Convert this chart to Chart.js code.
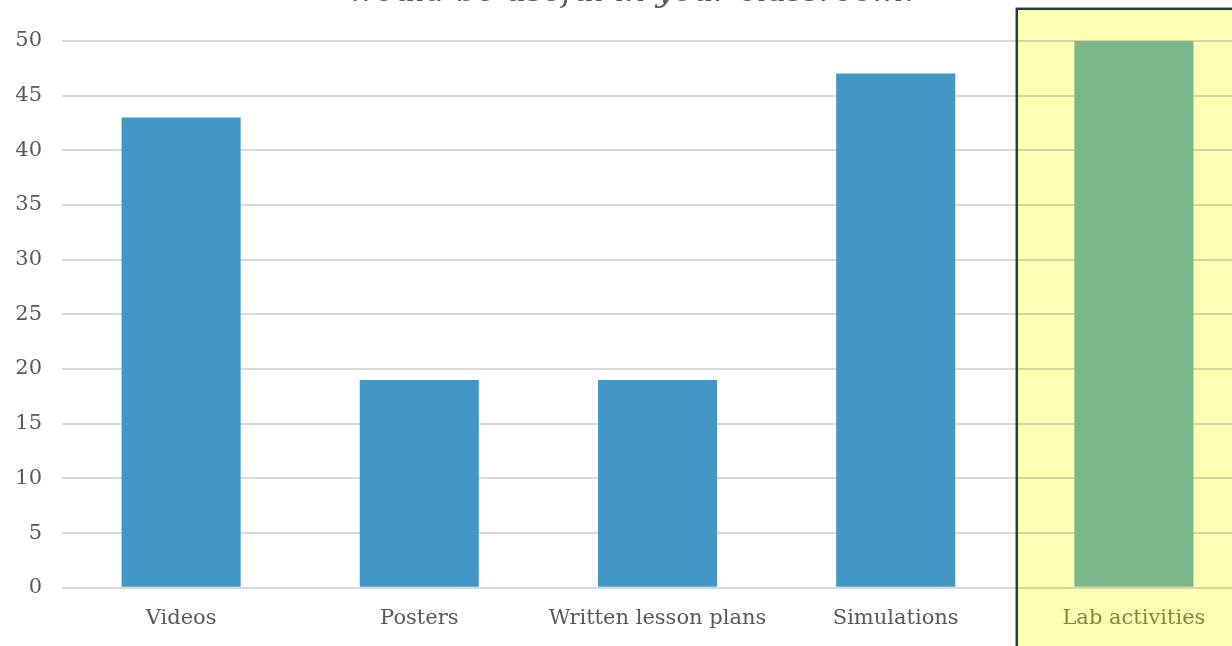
<!DOCTYPE html>
<html>
<head>
<meta charset="utf-8">
<script src="https://cdn.jsdelivr.net/npm/chart.js@4.4.1/dist/chart.umd.min.js"></script>
<style>
  html, body { margin: 0; padding: 0; background: #ffffff; overflow: hidden; width: 1232px; height: 646px; }
  #wrap { position: absolute; left: 0; top: -70px; width: 1253px; height: 719px; }
</style>
</head>
<body>
<div id="wrap"><canvas id="chart"></canvas></div>
<script>
// Survey results: resources teachers would use in class
const titleLines = ['Which type of resource', 'would be useful in your classroom?'];
const categories = ['Videos', 'Posters', 'Written lesson plans', 'Simulations', 'Lab activities'];
const responses = [43, 19, 19, 47, 50];
const highlighted = [false, false, false, false, true];
const yTicks = [0, 5, 10, 15, 20, 25, 30, 35, 40, 45, 50];

const BAR_BLUE = '#4397c4';
const BAR_GREEN = '#7bb78a';
const TEXT_GRAY = '#595959';
const TEXT_OLIVE = '#86873f';
const HILITE_FILL = '#fdfdb4';
const HILITE_EDGE = '#1f3f4e';

function panelRect(chart, i) {
  const { x, y } = chart.scales;
  const band = x.getPixelForValue(1) - x.getPixelForValue(0);
  const left = x.getPixelForValue(i) - band / 2 + 2;
  const top = y.getPixelForValue(yTicks[yTicks.length - 1]) - 32;
  return { left, top };
}

// Yellow call-out panel behind the highlighted category
const highlightPanel = {
  id: 'highlightPanel',
  beforeDraw(chart) {
    const { ctx } = chart;
    ctx.save();
    ctx.fillStyle = HILITE_FILL;
    highlighted.forEach((on, i) => {
      if (!on) return;
      const { left, top } = panelRect(chart, i);
      ctx.fillRect(left, top, chart.width - left + 10, chart.height - top + 10);
    });
    ctx.restore();
  },
  afterDraw(chart) {
    const { ctx } = chart;
    ctx.save();
    ctx.strokeStyle = HILITE_EDGE;
    ctx.lineWidth = 2.5;
    highlighted.forEach((on, i) => {
      if (!on) return;
      const { left, top } = panelRect(chart, i);
      ctx.strokeRect(left, top, chart.width - left + 20, chart.height - top + 20);
    });
    ctx.restore();
  }
};

new Chart(document.getElementById('chart'), {
  type: 'bar',
  data: {
    labels: categories,
    datasets: [{
      data: responses,
      backgroundColor: highlighted.map(h => h ? BAR_GREEN : BAR_BLUE),
      borderWidth: 0,
      barPercentage: 0.5,
      categoryPercentage: 1.0
    }]
  },
  options: {
    responsive: true,
    maintainAspectRatio: false,
    animation: false,
    layout: { padding: { left: 16, right: 0, top: 0, bottom: 0 } },
    plugins: {
      legend: { display: false },
      tooltip: { enabled: false },
      title: {
        display: true,
        text: titleLines,
        color: TEXT_GRAY,
        font: { family: 'DejaVu Serif', size: 32, style: 'italic', weight: 'normal', lineHeight: 1.2 },
        padding: { top: 5, bottom: 29 }
      }
    },
    scales: {
      x: {
        grid: { display: false, drawTicks: false },
        border: { display: false },
        ticks: {
          padding: 18,
          color: ctx => highlighted[ctx.index] ? TEXT_OLIVE : TEXT_GRAY,
          font: { family: 'DejaVu Serif', size: 21 },
          maxRotation: 0,
          autoSkip: false
        }
      },
      y: {
        min: 0,
        max: 50,
        afterBuildTicks: axis => { axis.ticks = yTicks.map(v => ({ value: v })); },
        afterFit: axis => { axis.width = 46; },
        grid: { color: 'rgba(0,0,0,0.15)', lineWidth: 2, drawTicks: false },
        border: { display: false },
        ticks: {
          padding: 20,
          color: TEXT_GRAY,
          font: { family: 'DejaVu Serif', size: 21 }
        }
      }
    }
  },
  plugins: [highlightPanel]
});
</script>
</body>
</html>
